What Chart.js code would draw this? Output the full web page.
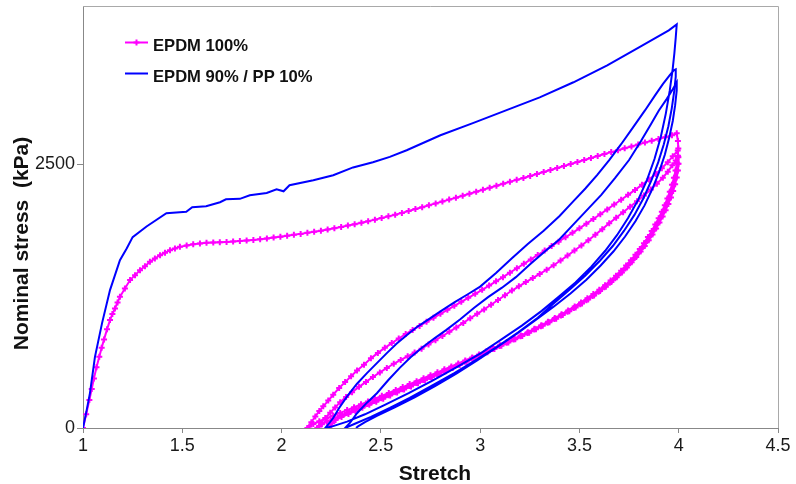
<!DOCTYPE html>
<html>
<head>
<meta charset="utf-8">
<script src="https://cdn.jsdelivr.net/npm/chart.js@4.4.0/dist/chart.umd.min.js"></script>
<style>
  html, body { margin: 0; padding: 0; background: #ffffff; }
  canvas { display: block; }
</style>
</head>
<body>
<canvas id="chart" width="796" height="484"></canvas>
<script>
// Cyclic tensile test: stretch (λ) vs nominal stress (kPa)

const xTickValues = [1, 1.5, 2, 2.5, 3, 3.5, 4, 4.5];
const yTickValues = [0, 2500];

const seriesNames = ['EPDM 100%', 'EPDM 90% / PP 10%'];

// ---- EPDM 100% ----
const epdmLoading = [
  [1.000,0],[1.016,130],[1.032,265],[1.044,370],[1.055,470],[1.068,575],[1.082,675],[1.094,760],
  [1.106,840],[1.121,935],[1.136,1023],[1.148,1080],[1.161,1133],[1.174,1190],[1.186,1243],[1.211,1323],
  [1.237,1402],[1.262,1449],[1.287,1496],[1.312,1534],[1.337,1575],[1.362,1607],[1.388,1638],[1.413,1660],
  [1.438,1686],[1.463,1702],[1.488,1717],[1.522,1730],[1.555,1742],[1.589,1749],[1.622,1755],[1.656,1758],
  [1.689,1761],[1.723,1764],[1.756,1768],[1.790,1772],[1.824,1777],[1.858,1783],[1.892,1790],[1.926,1797],
  [1.960,1805],[1.994,1813],[2.028,1822],[2.062,1831],[2.096,1840],[2.130,1850],[2.164,1860],[2.198,1870],
  [2.232,1882],[2.266,1894],[2.300,1906],[2.334,1919],[2.368,1932],[2.402,1946],[2.436,1960],[2.470,1975],
  [2.504,1990],[2.538,2006],[2.572,2022],[2.606,2039],[2.640,2057],[2.674,2075],[2.708,2093],[2.742,2111],
  [2.776,2129],[2.810,2147],[2.844,2165],[2.878,2183],[2.912,2201],[2.946,2220],[2.980,2239],[3.014,2258],
  [3.048,2277],[3.082,2296],[3.116,2315],[3.150,2334],[3.184,2352],[3.218,2370],[3.252,2389],[3.286,2408],
  [3.320,2427],[3.354,2446],[3.388,2465],[3.422,2484],[3.456,2503],[3.490,2522],[3.524,2541],[3.558,2560],
  [3.592,2578],[3.626,2597],[3.660,2615],[3.694,2633],[3.728,2651],[3.762,2669],[3.796,2687],[3.830,2705],
  [3.864,2722],[3.898,2740],[3.932,2757],[3.966,2775],[3.990,2794]
];
const epdmUnload1 = [
  [3.996,2720],[3.998,2650],[3.996,2580],[3.991,2510],[3.984,2440],[3.976,2372],[3.966,2305],[3.955,2240],
  [3.943,2176],[3.930,2112],[3.915,2050],[3.899,1988],[3.882,1928],[3.864,1868],[3.845,1810],[3.825,1752],
  [3.804,1697],[3.782,1643],[3.759,1591],[3.735,1540],[3.710,1491],[3.684,1444],[3.657,1398],[3.629,1354],
  [3.600,1311],[3.570,1270],[3.540,1230],[3.508,1190],[3.476,1152],[3.443,1114],[3.410,1078],[3.376,1042],
  [3.342,1007],[3.308,973],[3.274,940],[3.240,908],[3.205,876],[3.170,845],[3.135,815],[3.100,785],
  [3.065,755],[3.030,726],[2.995,697],[2.960,668],[2.925,640],[2.890,612],[2.855,584],[2.820,556],
  [2.785,528],[2.750,500],[2.715,472],[2.680,444],[2.645,416],[2.610,388],[2.575,360],[2.540,332],
  [2.505,305],[2.470,278],[2.435,251],[2.400,224],[2.365,197],[2.330,170],[2.295,143],[2.260,116],
  [2.225,90],[2.190,64],[2.160,38],[2.140,15],[2.130,0]
];
const epdmReload1 = [
  [2.150,55],[2.170,110],[2.190,160],[2.210,205],[2.235,260],[2.260,315],[2.290,380],[2.320,435],
  [2.350,490],[2.380,545],[2.415,600],[2.450,660],[2.485,712],[2.520,760],[2.555,805],[2.590,848],
  [2.625,890],[2.660,930],[2.695,968],[2.730,1006],[2.765,1044],[2.800,1082],[2.835,1120],[2.870,1158],
  [2.905,1196],[2.940,1234],[2.975,1272],[3.010,1310],[3.045,1350],[3.080,1390],[3.115,1430],[3.150,1472],
  [3.185,1514],[3.220,1556],[3.255,1598],[3.290,1640],[3.325,1682],[3.360,1724],[3.395,1766],[3.430,1808],
  [3.465,1850],[3.500,1893],[3.535,1937],[3.570,1981],[3.605,2026],[3.640,2072],[3.675,2118],[3.710,2164],
  [3.745,2210],[3.780,2257],[3.815,2305],[3.850,2355],[3.885,2408],[3.915,2462],[3.945,2520],[3.970,2575],
  [3.995,2630]
];
const epdmUnload2 = [
  [3.997,2570],[3.995,2505],[3.990,2440],[3.983,2375],[3.974,2310],[3.964,2247],[3.953,2185],[3.940,2123],
  [3.926,2062],[3.911,2002],[3.895,1943],[3.878,1885],[3.860,1828],[3.841,1772],[3.821,1717],[3.800,1664],
  [3.778,1612],[3.755,1562],[3.731,1513],[3.706,1466],[3.680,1420],[3.653,1376],[3.625,1333],[3.596,1291],
  [3.566,1251],[3.535,1212],[3.504,1174],[3.472,1137],[3.440,1101],[3.407,1066],[3.374,1032],[3.340,998],
  [3.306,965],[3.272,933],[3.238,901],[3.203,870],[3.168,839],[3.133,808],[3.098,778],[3.063,748],
  [3.028,718],[2.993,688],[2.958,658],[2.923,629],[2.888,600],[2.853,571],[2.818,542],[2.783,513],
  [2.748,484],[2.713,455],[2.678,426],[2.643,397],[2.608,368],[2.573,339],[2.538,311],[2.503,283],
  [2.468,255],[2.433,227],[2.398,199],[2.363,171],[2.328,143],[2.293,115],[2.258,87],[2.228,60],
  [2.203,35],[2.188,15],[2.180,0]
];
const epdmReload2 = [
  [2.200,50],[2.220,95],[2.245,145],[2.270,195],[2.295,245],[2.325,295],[2.355,340],[2.390,390],
  [2.425,437],[2.460,483],[2.495,527],[2.530,569],[2.565,609],[2.600,645],[2.635,680],[2.670,715],
  [2.705,752],[2.740,792],[2.775,832],[2.810,872],[2.845,912],[2.880,953],[2.915,996],[2.950,1040],
  [2.985,1082],[3.020,1124],[3.055,1168],[3.090,1213],[3.125,1258],[3.160,1303],[3.195,1343],[3.230,1383],
  [3.265,1421],[3.300,1460],[3.335,1500],[3.370,1543],[3.405,1588],[3.440,1634],[3.475,1682],[3.510,1730],
  [3.545,1780],[3.580,1832],[3.615,1885],[3.650,1940],[3.685,1993],[3.720,2045],[3.755,2097],[3.790,2150],
  [3.825,2203],[3.860,2260],[3.890,2315],[3.920,2372],[3.945,2430],[3.968,2490],[3.985,2535],[3.998,2566]
];
const epdmUnload3 = [
  [3.999,2505],[3.996,2440],[3.990,2375],[3.982,2310],[3.972,2247],[3.961,2185],[3.948,2124],[3.934,2064],
  [3.919,2005],[3.903,1947],[3.886,1890],[3.868,1834],[3.849,1779],[3.829,1725],[3.808,1672],[3.786,1620],
  [3.763,1570],[3.739,1521],[3.714,1474],[3.688,1428],[3.661,1383],[3.633,1340],[3.604,1298],[3.574,1257],
  [3.544,1218],[3.513,1180],[3.481,1143],[3.449,1107],[3.416,1071],[3.383,1036],[3.349,1002],[3.315,969],
  [3.281,936],[3.247,904],[3.212,872],[3.177,841],[3.142,810],[3.107,779],[3.072,748],[3.037,718],
  [3.002,688],[2.967,658],[2.932,628],[2.897,598],[2.862,568],[2.827,539],[2.792,510],[2.757,481],
  [2.722,452],[2.687,423],[2.652,394],[2.617,365],[2.582,336],[2.547,307],[2.512,278],[2.477,249],
  [2.442,220],[2.407,191],[2.372,162],[2.337,133],[2.302,104],[2.272,75],[2.255,45],[2.245,20],[2.240,0]
];

// ---- EPDM 90% / PP 10% ----
const blendLoading = [
  [1.000,0],[1.018,165],[1.035,331],[1.060,672],[1.096,994],[1.136,1307],[1.186,1591],[1.220,1702],
  [1.250,1809],[1.320,1910],[1.420,2036],[1.520,2050],[1.550,2093],[1.620,2102],[1.690,2140],[1.720,2168],
  [1.790,2172],[1.840,2206],[1.925,2228],[1.975,2263],[2.010,2244],[2.040,2301],[2.160,2348],[2.260,2396],
  [2.360,2470],[2.460,2519],[2.545,2570],[2.630,2633],[2.800,2775],[2.960,2888],[3.130,3011],[3.300,3134],
  [3.470,3277],[3.640,3438],[3.800,3608],[3.950,3769],[3.990,3826]
];
const blendUnload1 = [
  [3.985,3700],[3.978,3550],[3.970,3409],[3.955,3200],[3.935,2980],[3.910,2760],[3.878,2550],[3.840,2350],
  [3.795,2160],[3.745,1990],[3.690,1830],[3.630,1680],[3.560,1530],[3.480,1380],[3.400,1250],[3.310,1110],
  [3.210,970],[3.100,830],[3.000,705],[2.880,575],[2.760,450],[2.640,330],[2.520,220],[2.420,130],
  [2.330,60],[2.260,18],[2.220,0]
];
const blendReload1 = [
  [2.240,45],[2.260,95],[2.290,190],[2.330,300],[2.380,420],[2.430,520],[2.480,615],[2.530,710],
  [2.580,800],[2.630,880],[2.680,955],[2.740,1030],[2.800,1105],[2.870,1190],[2.940,1270],[3.000,1340],
  [3.080,1470],[3.160,1610],[3.240,1745],[3.320,1870],[3.400,2010],[3.470,2150],[3.530,2270],[3.590,2400],
  [3.650,2540],[3.710,2690],[3.770,2850],[3.830,3010],[3.880,3150],[3.920,3260],[3.955,3345],[3.975,3390],
  [3.985,3400]
];
const blendUnload2 = [
  [3.985,3330],[3.978,3200],[3.965,3030],[3.948,2860],[3.925,2690],[3.897,2520],[3.863,2350],[3.823,2180],
  [3.777,2020],[3.725,1870],[3.668,1725],[3.603,1585],[3.530,1445],[3.450,1310],[3.370,1180],[3.290,1045],
  [3.190,905],[3.085,770],[2.980,645],[2.870,520],[2.755,400],[2.645,285],[2.545,190],[2.450,105],
  [2.375,45],[2.320,0]
];
const blendReload2 = [
  [2.345,50],[2.380,140],[2.430,240],[2.480,330],[2.540,460],[2.595,570],[2.650,670],[2.710,765],
  [2.770,850],[2.830,930],[2.900,1030],[2.970,1140],[3.040,1240],[3.110,1330],[3.180,1430],[3.250,1550],
  [3.330,1680],[3.400,1790],[3.470,1930],[3.540,2070],[3.610,2210],[3.680,2370],[3.750,2540],[3.810,2720],
  [3.860,2880],[3.900,3010],[3.940,3120],[3.970,3210],[3.990,3277]
];
const blendUnload3 = [
  [3.990,3200],[3.982,3060],[3.970,2910],[3.952,2750],[3.930,2590],[3.902,2430],[3.868,2270],[3.828,2110],
  [3.782,1960],[3.730,1815],[3.672,1675],[3.607,1540],[3.535,1405],[3.455,1275],[3.370,1150],[3.280,1025],
  [3.185,895],[3.085,765],[2.985,640],[2.880,515],[2.775,400],[2.670,290],[2.570,195],[2.480,115],
  [2.420,55],[2.385,15],[2.375,0]
];

const toPoints = segments => segments.flat().map(([x, y]) => ({ x, y }));

const epdmPath = toPoints([epdmLoading, epdmUnload1, epdmReload1, epdmUnload2, epdmReload2, epdmUnload3]);
const blendPath = toPoints([blendLoading, blendUnload1, blendReload1, blendUnload2, blendReload2, blendUnload3]);

const MAGENTA = '#ff00ff';
const BLUE = '#0000ff';
const FONT = "'Liberation Sans', Arial, Helvetica, sans-serif";

// Frame, legend and axis titles
const decorations = {
  id: 'decorations',
  afterDraw(chart) {
    const { ctx, chartArea: a } = chart;
    ctx.save();

    // top and right border of the plot
    ctx.strokeStyle = '#a9a9a9';
    ctx.lineWidth = 1;
    ctx.beginPath();
    ctx.moveTo(a.left, a.top + 0.5);
    ctx.lineTo(a.right + 0.5, a.top + 0.5);
    ctx.lineTo(a.right + 0.5, a.bottom);
    ctx.stroke();

    // legend
    const legendRows = [
      { label: seriesNames[0], color: MAGENTA, marker: true, y: 42.5, base: 50.5 },
      { label: seriesNames[1], color: BLUE, marker: false, y: 73.5, base: 81.5 }
    ];
    legendRows.forEach(r => {
      ctx.strokeStyle = r.color;
      ctx.lineWidth = 2;
      ctx.beginPath();
      ctx.moveTo(125, r.y);
      ctx.lineTo(148, r.y);
      ctx.stroke();
      if (r.marker) {
        ctx.beginPath();
        ctx.moveTo(136.5 - 3, r.y); ctx.lineTo(136.5 + 3, r.y);
        ctx.moveTo(136.5, r.y - 3); ctx.lineTo(136.5, r.y + 3);
        ctx.stroke();
      }
      ctx.fillStyle = '#111111';
      ctx.font = 'bold 16.6px ' + FONT;
      ctx.textAlign = 'left';
      ctx.textBaseline = 'alphabetic';
      ctx.fillText(r.label, 153, r.base);
    });

    // axis titles
    ctx.fillStyle = '#111111';
    ctx.font = 'bold 21px ' + FONT;
    ctx.textAlign = 'center';
    ctx.textBaseline = 'alphabetic';
    ctx.fillText('Stretch', 435, 480);

    ctx.translate(27.5, 243.5);
    ctx.rotate(-Math.PI / 2);
    ctx.fillText('Nominal stress  (kPa)', 0, 0);

    ctx.restore();
  }
};

new Chart(document.getElementById('chart'), {
  type: 'scatter',
  data: {
    datasets: [
      {
        label: seriesNames[1],
        data: blendPath,
        showLine: true,
        borderColor: BLUE,
        backgroundColor: BLUE,
        borderWidth: 2,
        pointRadius: 0,
        tension: 0,
        order: 0
      },
      {
        label: seriesNames[0],
        data: epdmPath,
        showLine: true,
        borderColor: MAGENTA,
        backgroundColor: MAGENTA,
        borderWidth: 2,
        pointStyle: 'cross',
        pointRadius: 3,
        pointBorderWidth: 2,
        pointBorderColor: MAGENTA,
        tension: 0,
        order: 1
      }
    ]
  },
  options: {
    responsive: false,
    animation: false,
    devicePixelRatio: 1,
    layout: { padding: { left: 0, right: 18, top: 6, bottom: 0 } },
    plugins: {
      legend: { display: false },
      tooltip: { enabled: false }
    },
    scales: {
      x: {
        type: 'linear',
        min: 1,
        max: 4.5,
        afterBuildTicks: s => { s.ticks = xTickValues.map(v => ({ value: v })); },
        afterFit: s => { s.height = 56; s.paddingLeft = 0; s.paddingRight = 0; },
        ticks: {
          color: '#1a1a1a',
          font: { family: FONT, size: 18 },
          padding: 2,
          maxRotation: 0,
          callback: v => String(v)
        },
        grid: { drawOnChartArea: false, drawTicks: true, tickLength: 5, color: '#888888' },
        border: { color: '#888888', width: 1 }
      },
      y: {
        type: 'linear',
        min: 0,
        max: 4000,
        afterBuildTicks: s => { s.ticks = yTickValues.map(v => ({ value: v })); },
        afterFit: s => { s.width = 83; s.paddingTop = 0; s.paddingBottom = 0; },
        ticks: {
          color: '#1a1a1a',
          font: { family: FONT, size: 18 },
          padding: 2,
          callback: v => String(v)
        },
        grid: { drawOnChartArea: false, drawTicks: true, tickLength: 6, color: '#888888' },
        border: { color: '#888888', width: 1 }
      }
    }
  },
  plugins: [decorations]
});
</script>
</body>
</html>
